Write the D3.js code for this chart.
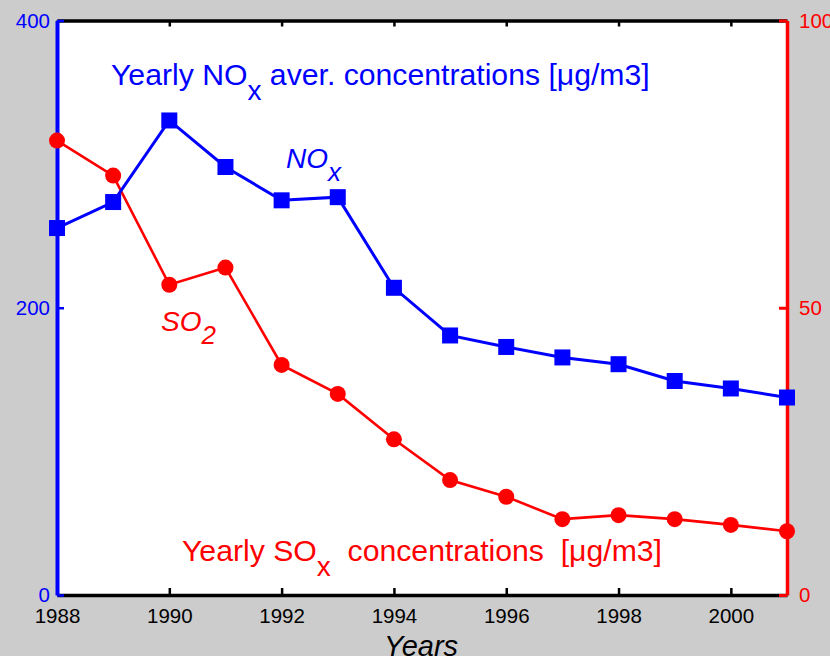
<html>
<head>
<script src="https://d3js.org/d3.v7.min.js"></script>
<style>
body { margin: 0; background: #cccccc; font-family: 'Liberation Sans', Arial, sans-serif; }
svg { display: block; }
</style>
</head>
<body>
<svg id="chart" width="830" height="656"></svg>
<script type="text/javascript">
// data
var years = [1988, 1989, 1990, 1991, 1992, 1993, 1994, 1995, 1996, 1997, 1998, 1999, 2000, 2001];
var nox = [255.5, 273.6, 330.4, 298, 274.8, 277, 213.9, 180.7, 172.7, 165.4, 160.7, 149, 143.8, 137.5];
var so2 = [79.1, 73, 54, 57, 40.05, 35, 27.1, 20, 17.1, 13.2, 13.9, 13.2, 12.2, 11.1];
var xTicks = [1988, 1990, 1992, 1994, 1996, 1998, 2000];
var leftTicks = [0, 200, 400];
var rightTicks = [0, 50, 100];

var width = 830, height = 656;
var pLeft = 57, pRight = 787, pTop = 20.5, pBottom = 595;

var svg = d3.select("#chart");

var x = d3.scaleLinear().domain([1988, 2001]).range([pLeft, pRight]);
var yL = d3.scaleLinear().domain([0, 400]).range([pBottom, pTop]);
var yR = d3.scaleLinear().domain([0, 100]).range([pBottom, pTop]);

// plot area
svg.append("rect").attr("x", pLeft).attr("y", pTop)
	.attr("width", pRight - pLeft).attr("height", pBottom - pTop).attr("fill", "#fff");

// bottom axis, ticks inward
var xAxis = svg.append("g").attr("transform", "translate(0," + pBottom + ")")
	.call(d3.axisBottom(x).tickValues(xTicks).tickFormat(d3.format("d")).tickSizeInner(-7).tickSizeOuter(0).tickPadding(13));
xAxis.select(".domain").attr("stroke", "#000").attr("stroke-width", 3.5);
xAxis.selectAll(".tick line").attr("stroke", "#000").attr("stroke-width", 2.5);
xAxis.selectAll("text").attr("font-size", 20.5).attr("fill", "#000").attr("font-family", "Liberation Sans, Arial");

// top axis, ticks only
var xTop = svg.append("g").attr("transform", "translate(0," + pTop + ")")
	.call(d3.axisTop(x).tickValues(xTicks).tickFormat("").tickSizeInner(-6).tickSizeOuter(0));
xTop.select(".domain").attr("stroke", "#000").attr("stroke-width", 3.5);
xTop.selectAll(".tick line").attr("stroke", "#000").attr("stroke-width", 2.5);

// left axis (NOx)
var yAxisL = svg.append("g").attr("transform", "translate(" + pLeft + ",0)")
	.call(d3.axisLeft(yL).tickValues(leftTicks).tickSizeInner(-7).tickSizeOuter(0).tickPadding(7));
yAxisL.select(".domain").attr("stroke", "#0000ff").attr("stroke-width", 4);
yAxisL.selectAll(".tick line").attr("stroke", "#0000ff").attr("stroke-width", 2.5);
yAxisL.selectAll("text").attr("font-size", 20.5).attr("fill", "#0000ff").attr("font-family", "Liberation Sans, Arial");

// right axis (SO2)
var yAxisR = svg.append("g").attr("transform", "translate(" + pRight + ",0)")
	.call(d3.axisRight(yR).tickValues(rightTicks).tickSizeInner(-8).tickSizeOuter(0).tickPadding(12));
yAxisR.select(".domain").attr("stroke", "#ff0000").attr("stroke-width", 3.5);
yAxisR.selectAll(".tick line").attr("stroke", "#ff0000").attr("stroke-width", 3);
yAxisR.selectAll("text").attr("font-size", 20.5).attr("fill", "#ff0000").attr("font-family", "Liberation Sans, Arial");

// SO2 line + circles
var so2Data = years.map(function(d, i){ return {yr: d, v: so2[i]}; });
svg.append("path").datum(so2Data)
	.attr("fill", "none").attr("stroke", "#ff0000").attr("stroke-width", 2.6)
	.attr("d", d3.line().x(function(d){ return x(d.yr); }).y(function(d){ return yR(d.v); }));
svg.selectAll("circle.so2").data(so2Data).enter().append("circle")
	.attr("class", "so2")
	.attr("cx", function(d){ return x(d.yr); })
	.attr("cy", function(d){ return yR(d.v); })
	.attr("r", 8).attr("fill", "#ff0000");

// NOx line + squares
var noxData = years.map(function(d, i){ return {yr: d, v: nox[i]}; });
svg.append("path").datum(noxData)
	.attr("fill", "none").attr("stroke", "#0000ff").attr("stroke-width", 3)
	.attr("d", d3.line().x(function(d){ return x(d.yr); }).y(function(d){ return yL(d.v); }));
var sq = 16;
svg.selectAll("rect.nox").data(noxData).enter().append("rect")
	.attr("class", "nox")
	.attr("x", function(d){ return x(d.yr) - sq / 2; })
	.attr("y", function(d){ return yL(d.v) - sq / 2; })
	.attr("width", sq).attr("height", sq).attr("fill", "#0000ff");

// texts
var t1 = svg.append("text").attr("x", 111).attr("y", 85).attr("fill", "#0000ff").attr("font-size", 30.2);
t1.append("tspan").text("Yearly NO");
t1.append("tspan").attr("dy", 15).attr("font-size", 28).text("x");
t1.append("tspan").attr("dy", -15).text(" aver. concentrations [\u03bcg/m3]");

var t2 = svg.append("text").attr("x", 182).attr("y", 561).attr("fill", "#ff0000").attr("font-size", 30.2)
	.style("white-space", "pre");
t2.append("tspan").text("Yearly SO");
t2.append("tspan").attr("dy", 15).attr("font-size", 28).text("x");
t2.append("tspan").attr("dy", -15).text("  concentrations  [\u03bcg/m3]");

var t3 = svg.append("text").attr("x", 286).attr("y", 168).attr("fill", "#0000ff").attr("font-size", 28).attr("font-style", "italic");
t3.append("tspan").text("NO");
t3.append("tspan").attr("dy", 13).attr("font-size", 26).text("x");

var t4 = svg.append("text").attr("x", 161).attr("y", 331).attr("fill", "#ff0000").attr("font-size", 28).attr("font-style", "italic");
t4.append("tspan").text("SO");
t4.append("tspan").attr("dy", 13).attr("font-size", 26).text("2");

svg.append("text").attr("x", 421).attr("y", 656).attr("text-anchor", "middle")
	.attr("font-size", 29).attr("font-style", "italic").attr("fill", "#000").text("Years");
</script>
</body>
</html>
